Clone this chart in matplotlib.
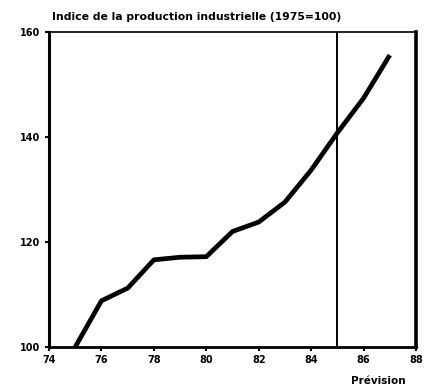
import matplotlib
matplotlib.use("Agg")
import matplotlib.pyplot as plt

years = [75, 76, 77, 78, 79, 80, 81, 82, 83, 84, 85, 86, 87]
values = [100.0, 108.8, 111.2, 116.6, 117.1, 117.2, 122.0, 123.8, 127.6, 133.7, 140.8, 147.4, 155.6]
x_ticks = [74, 76, 78, 80, 82, 84, 86, 88]
y_ticks = [100, 120, 140, 160]
forecast_start = 85
title = "Indice de la production industrielle (1975=100)"
forecast_label = "Prévision"

fig = plt.figure(figsize=(4.35, 3.89), dpi=100)
ax = fig.add_axes([49/435, 1 - 347/389, (416 - 49)/435, (347 - 32)/389])
ax.plot(years, values, color="black", lw=3.4, solid_capstyle="butt", solid_joinstyle="round")
ax.axvline(forecast_start, color="black", lw=1.4)
ax.set_xlim(74, 88)
ax.set_ylim(100, 160)
ax.set_xticks(x_ticks)
ax.set_xticklabels([str(t) for t in x_ticks])
ax.set_yticks(y_ticks)
ax.set_yticklabels([str(t) for t in y_ticks])
ax.tick_params(direction="out", length=3, width=1.5, labelsize=7, pad=3)
for lbl in ax.get_xticklabels() + ax.get_yticklabels():
    lbl.set_fontweight("bold")
ax.spines["left"].set_linewidth(2.2)
ax.spines["bottom"].set_linewidth(2.0)
ax.spines["right"].set_linewidth(2.6)
ax.spines["top"].set_linewidth(1.2)
fig.text(52/435, 1 - 17/389, title, fontsize=7.8, fontweight="bold",
         ha="left", va="center")
fig.text(378/435, 1 - 381/389, forecast_label, fontsize=7.5, fontweight="bold",
         ha="center", va="center")
fig.savefig("out.png", dpi=100)
